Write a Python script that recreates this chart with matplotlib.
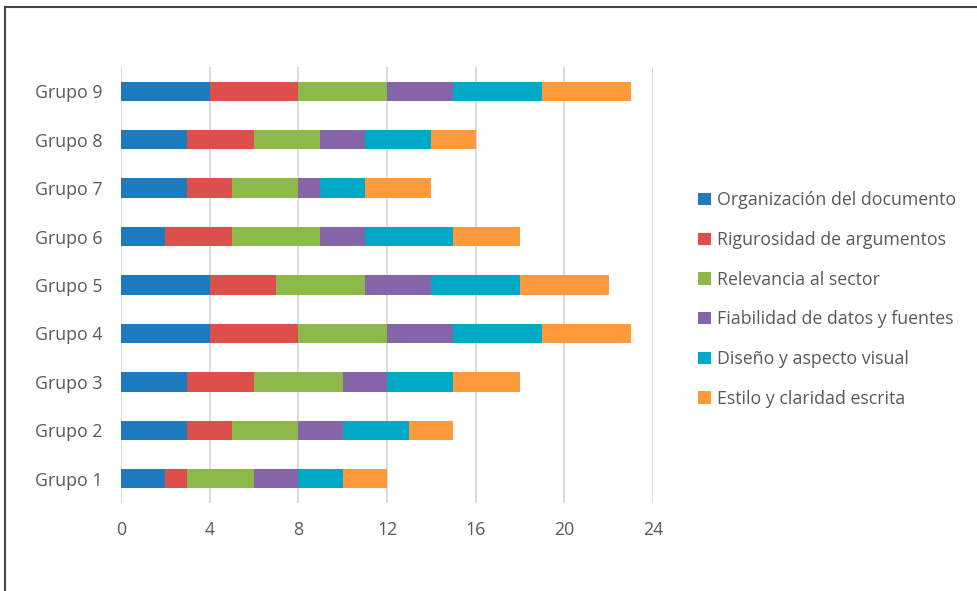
import matplotlib.pyplot as plt
from matplotlib.lines import Line2D
import numpy as np

plt.rcParams['font.family'] = ['Open Sans', 'DejaVu Sans']

grupos = ["Grupo 1", "Grupo 2", "Grupo 3", "Grupo 4", "Grupo 5",
          "Grupo 6", "Grupo 7", "Grupo 8", "Grupo 9"]

organizacion = [2, 3, 3, 4, 4, 2, 3, 3, 4]
rigurosidad = [1, 2, 3, 4, 3, 3, 2, 3, 4]
relevancia = [3, 3, 4, 4, 4, 4, 3, 3, 4]
fiabilidad = [2, 2, 2, 3, 3, 2, 1, 2, 3]
diseno = [2, 3, 3, 4, 4, 4, 2, 3, 4]
estilo = [2, 2, 3, 4, 4, 3, 3, 2, 4]

series = [
    ("Organización del documento", organizacion, "#1F7BC0"),
    ("Rigurosidad de argumentos", rigurosidad, "#DC4F4B"),
    ("Relevancia al sector", relevancia, "#8DB84A"),
    ("Fiabilidad de datos y fuentes", fiabilidad, "#8664A8"),
    ("Diseño y aspecto visual", diseno, "#00AAC7"),
    ("Estilo y claridad escrita", estilo, "#FF9A3C"),
]

text_color = "#595959"

fig = plt.figure(figsize=(9.78, 5.91), dpi=100)
ax = fig.add_axes([0.1237, 0.1489, 0.544, 0.7377])

y = np.arange(len(grupos))
left = np.zeros(len(grupos))
for name, vals, color in series:
    ax.barh(y, vals, left=left, height=0.4, color=color, label=name, zorder=3)
    left += np.array(vals)

ax.set_xlim(0, 24)
ax.set_ylim(-0.5, 8.5)
ax.set_xticks(range(0, 25, 4))
ax.set_yticks(y)
ax.set_yticklabels(grupos)
ax.xaxis.grid(True, color="#D9D9D9", linewidth=1.3, zorder=0)
ax.tick_params(length=0, labelsize=12.8, labelcolor=text_color)
ax.tick_params(axis='y', pad=13)
ax.tick_params(axis='x', pad=13)
for s in ax.spines.values():
    s.set_visible(False)

fig.legend(loc='center left', bbox_to_anchor=(0.705, 0.493), frameon=False,
           fontsize=12.8, labelcolor=text_color, handlelength=0.7,
           handleheight=0.7, handletextpad=0.35, labelspacing=1.22, borderpad=0)

# outer border (left and top only visible)
fig.add_artist(Line2D([0.0056, 0.0056], [0, 0.988], color="#444444", linewidth=1.5))
fig.add_artist(Line2D([0.0056, 1.0], [0.988, 0.988], color="#444444", linewidth=1.5))

fig.savefig("out.png", dpi=100)
